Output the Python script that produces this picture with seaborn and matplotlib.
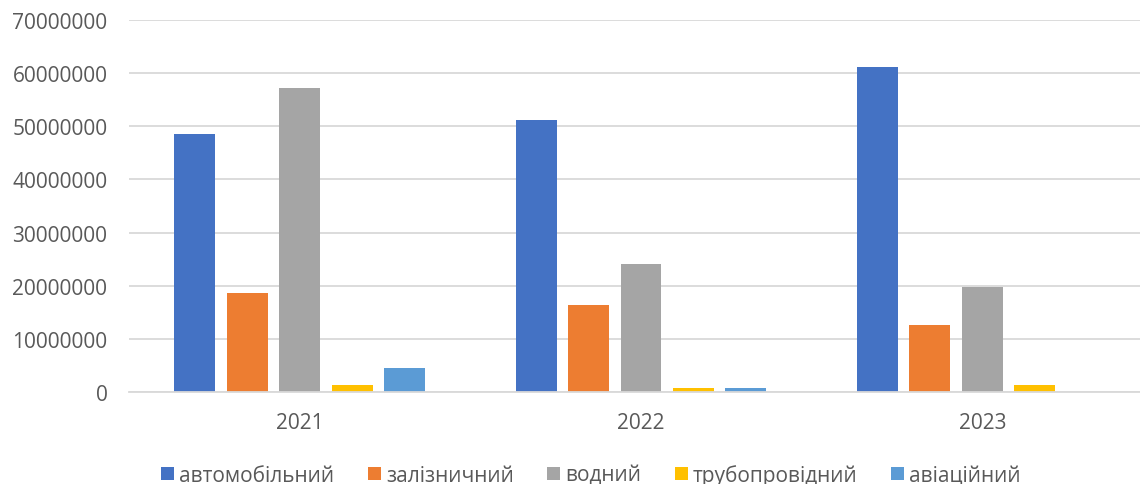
import matplotlib
matplotlib.use("Agg")
import matplotlib.pyplot as plt
import matplotlib.ticker as mticker
import seaborn as sns
import pandas as pd

years = ["2021", "2022", "2023"]
modes = ["автомобільний", "залізничний", "водний", "трубопровідний", "авіаційний"]
avto = [48600000, 51200000, 61200000]
zaliz = [18700000, 16300000, 12700000]
vodn = [57200000, 24000000, 19700000]
trub = [1400000, 800000, 1300000]
avia = [4600000, 800000, 0]
colors = ["#4472C4", "#ED7D31", "#A5A5A5", "#FFC000", "#5B9BD5"]

series = [avto, zaliz, vodn, trub, avia]
rows = []
for m, vals in zip(modes, series):
    for y, v in zip(years, vals):
        rows.append({"year": y, "mode": m, "value": v})
df = pd.DataFrame(rows)

sns.set_theme(style="white")
plt.rcParams["font.family"] = ["Open Sans", "DejaVu Sans"]

W, H = 1140, 485
fig = plt.figure(figsize=(W / 100, H / 100), dpi=100)
ax = fig.add_axes([129 / W, 92 / H, 1024 / W, 372 / H])

sns.barplot(data=df, x="year", y="value", hue="mode", order=years, hue_order=modes,
            palette=colors, width=0.767, gap=0.217, ax=ax, saturation=1,
            edgecolor="none", linewidth=0, legend=True)

ax.set_ylim(0, 70000000)
ax.set_xlim(-0.5, 2.5)
ax.set_yticks(range(0, 70000001, 10000000))
ax.yaxis.set_major_formatter(mticker.StrMethodFormatter("{x:.0f}"))
ax.grid(axis="y", color="#D9D9D9", linewidth=1.3)
ax.set_axisbelow(True)
for s in ["top", "right", "left"]:
    ax.spines[s].set_visible(False)
ax.spines["bottom"].set_color("#D9D9D9")
ax.spines["bottom"].set_linewidth(1.3)
ax.set_xlabel("")
ax.set_ylabel("")
ax.tick_params(axis="y", length=0, pad=15.5, labelsize=15, labelcolor="#595959")
ax.tick_params(axis="x", length=0, pad=14.5, labelsize=15, labelcolor="#595959")

handles, labels = ax.get_legend_handles_labels()
ax.get_legend().remove()
fig.legend(handles, labels, ncol=5, loc="center", bbox_to_anchor=(591 / W, 1 - 476 / H),
           frameon=False, fontsize=15, labelcolor="#595959",
           handlelength=0.62, handleheight=0.62, handletextpad=0.25, columnspacing=1.6,
           borderaxespad=0, borderpad=0)

fig.savefig("out.png", dpi=100)
